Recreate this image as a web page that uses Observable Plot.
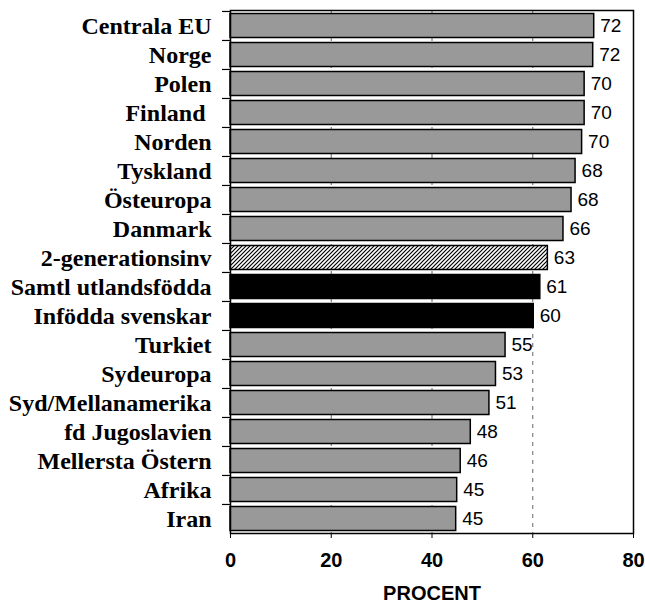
<!DOCTYPE html>
<html>
<head>
<meta charset="utf-8">
<script src="https://cdn.jsdelivr.net/npm/d3@7"></script>
<script src="https://cdn.jsdelivr.net/npm/@observablehq/plot@0.6"></script>
<style>
  html, body { margin: 0; padding: 0; background: #fff; }
</style>
</head>
<body>
<div id="chart"></div>
<script>
const categories = ["Centrala EU","Norge","Polen","Finland ","Norden","Tyskland","Östeuropa","Danmark","2-generationsinv","Samtl utlandsfödda","Infödda svenskar","Turkiet","Sydeuropa","Syd/Mellanamerika","fd Jugoslavien","Mellersta Östern","Afrika","Iran"];
const values = [72.2,72.0,70.3,70.3,69.8,68.5,67.7,66.1,63.0,61.5,60.2,54.6,52.7,51.4,47.7,45.7,45.0,44.8];
const valueLabels = ["72","72","70","70","70","68","68","66","63","61","60","55","53","51","48","46","45","45"];
const groups = ["land","land","land","land","land","land","land","land","hatch","total","total","land","land","land","land","land","land","land"];
const xTicks = [0,20,40,60,80];
const gridTicks = [20,40,60];

const data = categories.map((c,i) => ({cat: c, value: values[i], label: valueLabels[i], group: groups[i]}));

const W = 645, H = 605, mt = 10, mb = 72, ml = 230, mr = 12;
const step = (H - mt - mb) / categories.length;

const barOpts = {y: "cat", x: "value", stroke: "#000", strokeWidth: 1.5, insetTop: 2.5, insetBottom: 2.5};

const plot = Plot.plot({
  width: W, height: H,
  marginTop: mt, marginBottom: mb, marginLeft: ml, marginRight: mr,
  style: {background: "#fff", overflow: "visible"},
  x: {domain: [0, 80], ticks: xTicks},
  y: {domain: categories, padding: 0},
  marks: [
    Plot.ruleX(gridTicks, {stroke: "#666", strokeWidth: 1, strokeDasharray: "4,5"}),
    Plot.barX(data.filter(d => d.group === "land"), {...barOpts, fill: "#999999"}),
    Plot.barX(data.filter(d => d.group === "total"), {...barOpts, fill: "#000"}),
    Plot.barX(data.filter(d => d.group === "hatch"), {...barOpts, fill: "url(#hatch)"}),
    Plot.text(data, {y: "cat", x: "value", text: "label", dx: 6, textAnchor: "start", fontSize: 19, fontFamily: "Liberation Sans, Arial, sans-serif", fill: "#000"}),
    Plot.frame({stroke: "#000", strokeWidth: 1.5}),
    Plot.axisY({tickSize: 8, text: null, label: null, dy: -step / 2, strokeWidth: 1.2}),
    Plot.axisY({tickSize: 0, tickPadding: 19, fontSize: 24, fontWeight: "bold", fontFamily: "Liberation Serif, Times New Roman, serif", label: null}),
    Plot.axisX({ticks: xTicks, tickSize: 5, tickPadding: 14, fontSize: 20, fontWeight: "bold", fontFamily: "Liberation Sans, Arial, sans-serif", label: "PROCENT", labelAnchor: "center", labelOffset: 66, labelArrow: "none"})
  ]
});

const svg = d3.select(plot);
const defs = svg.insert("defs", ":first-child");
const pat = defs.append("pattern").attr("id", "hatch").attr("patternUnits", "userSpaceOnUse")
  .attr("width", 4).attr("height", 4);
pat.append("rect").attr("width", 4).attr("height", 4).attr("fill", "#fff");
pat.append("path").attr("d", "M-1,1 l2,-2 M0,4 l4,-4 M3,5 l2,-2").attr("stroke", "#000").attr("stroke-width", 1.2);

document.getElementById("chart").appendChild(plot);
</script>
</body>
</html>
